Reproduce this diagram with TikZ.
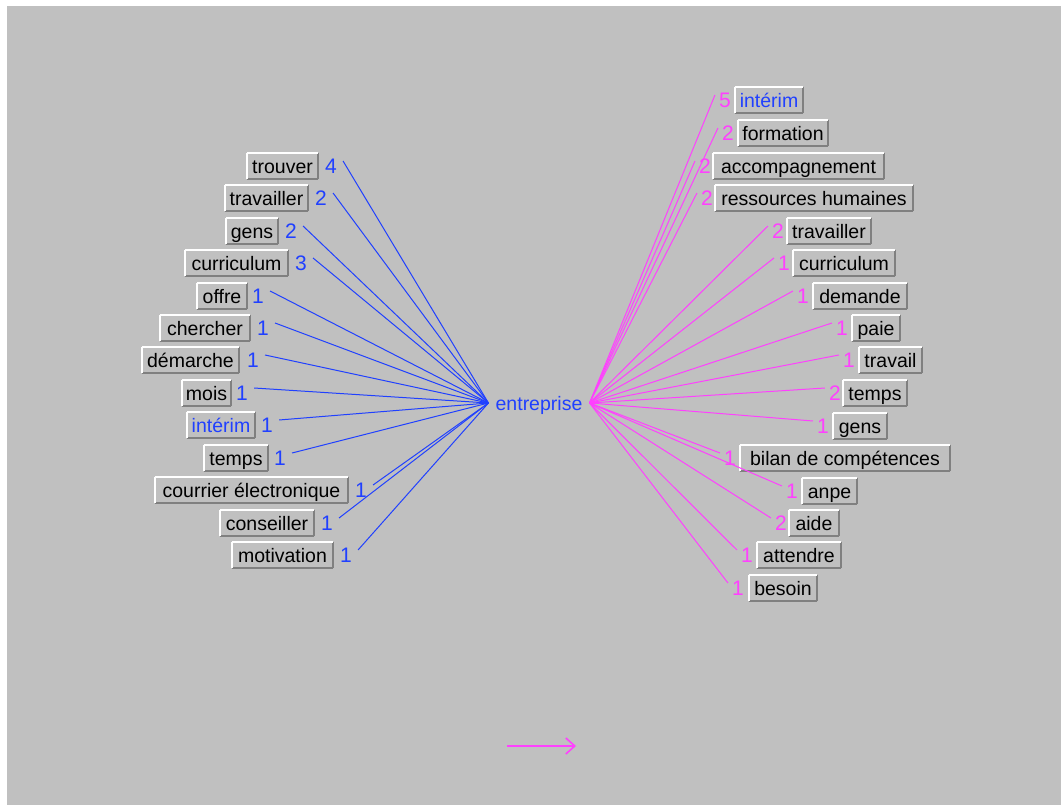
\documentclass[tikz,border=0pt]{standalone}
\usepackage{fontspec}
\setmainfont{Liberation Sans}
\newfontfamily\uifont{Liberation Sans}
\usetikzlibrary{arrows.meta}
\definecolor{bgc}{RGB}{192,192,192}
\definecolor{shadowc}{RGB}{128,128,128}
\definecolor{linkblue}{RGB}{32,64,255}
\definecolor{linkmag}{RGB}{255,64,255}
\tikzset{
  box/.style={fill=bgc, inner sep=3pt, minimum height=26pt, text height=17pt, text depth=2pt,
    font=\uifont\fontsize{19.5}{22}\selectfont,
    append after command={
      (\tikzlastnode.south east) edge[draw=shadowc, line width=2pt] (\tikzlastnode.south west)
      (\tikzlastnode.north east) edge[draw=shadowc, line width=2pt] (\tikzlastnode.south east)
      (\tikzlastnode.south west) edge[draw=white, line width=1.5pt] (\tikzlastnode.north west)
      (\tikzlastnode.north west) edge[draw=white, line width=1.5pt] (\tikzlastnode.north east)
    }},
  numl/.style={inner sep=0pt, text height=17pt, text depth=2pt, text=linkblue,
    font=\uifont\fontsize{21}{22}\selectfont},
  numr/.style={numl, text=linkmag},
  hubnode/.style={inner xsep=7pt, inner ysep=2pt, text height=17pt, text depth=2pt, text=linkblue,
    font=\uifont\fontsize{19.5}{22}\selectfont},
  bluelink/.style={draw=linkblue, line width=1pt},
  maglink/.style={draw=linkmag, line width=1pt},
}
\begin{document}
\begin{tikzpicture}[x=1pt, y=-1pt]
\useasboundingbox (0,0) rectangle (1061,805);
\fill[white] (0,0) rectangle (1061,805);
\fill[bgc] (7,6) rectangle (1061,805);

\node[hubnode] (hub) at (539,403) {entreprise};

% left side
\foreach \i/\t/\bl/\br/\nx/\y/\n/\c in {
  1/trouver/247/318/331/166/4/black,
  2/travailler/225/308/321/198/2/black,
  3/gens/226/278/291/231/2/black,
  4/curriculum/185/288/301/263/3/black,
  5/offre/197/247/258/296/1/black,
  6/chercher/160/250/263/328/1/black,
  7/démarche/142/239/253/360/1/black,
  8/mois/182/231/242/393/1/black,
  9/intérim/187/255/267/425/1/linkblue,
  10/temps/204/268/280/458/1/black,
  11/courrier électronique/155/348/361/490/1/black,
  12/conseiller/220/314/327/523/1/black,
  13/motivation/232/333/346/555/1/black}{
  \node[box, minimum width={(\br-\bl)*1pt}, text=\c] (L\i) at ({(\bl+\br)/2},\y) {\t};
  \node[numl] (nL\i) at (\nx,\y) {\n};
  \draw[bluelink] ([shift={(6,-5)}]nL\i.east) -- (hub.west);
}

% right side
\foreach \i/\t/\nx/\bl/\br/\y/\n/\c in {
  1/intérim/725/735/803/100/5/linkblue,
  2/formation/728/738/828/133/2/black,
  3/accompagnement/705/713/884/166/2/black,
  4/ressources humaines/707/715/913/198/2/black,
  5/travailler/778/787/871/231/2/black,
  6/curriculum/784/793/895/263/1/black,
  7/demande/803/813/907/296/1/black,
  8/paie/842/852/900/328/1/black,
  9/travail/849/859/922/360/1/black,
  10/temps/835/843/907/393/2/black,
  11/gens/823/833/887/426/1/black,
  12/bilan de compétences/730/740/950/458/1/black,
  13/anpe/792/802/857/491/1/black,
  14/aide/781/789/839/523/2/black,
  15/attendre/747/757/841/555/1/black,
  16/besoin/738/749/817/588/1/black}{
  \node[box, minimum width={(\br-\bl)*1pt}, text=\c] (R\i) at ({(\bl+\br)/2},\y) {\t};
  \node[numr] (nR\i) at (\nx,\y) {\n};
  \draw[maglink] (hub.east) -- ([shift={(-4,-5)}]nR\i.west);
}

% arrow at the bottom
\coordinate (arrA) at (507,746);
\coordinate (arrB) at (576,746);
\draw[draw=linkmag, line width=2pt, -{Straight Barb[length=9pt,width=16pt,line width=1.6pt]}] (arrA) -- (arrB);
\end{tikzpicture}
\end{document}
